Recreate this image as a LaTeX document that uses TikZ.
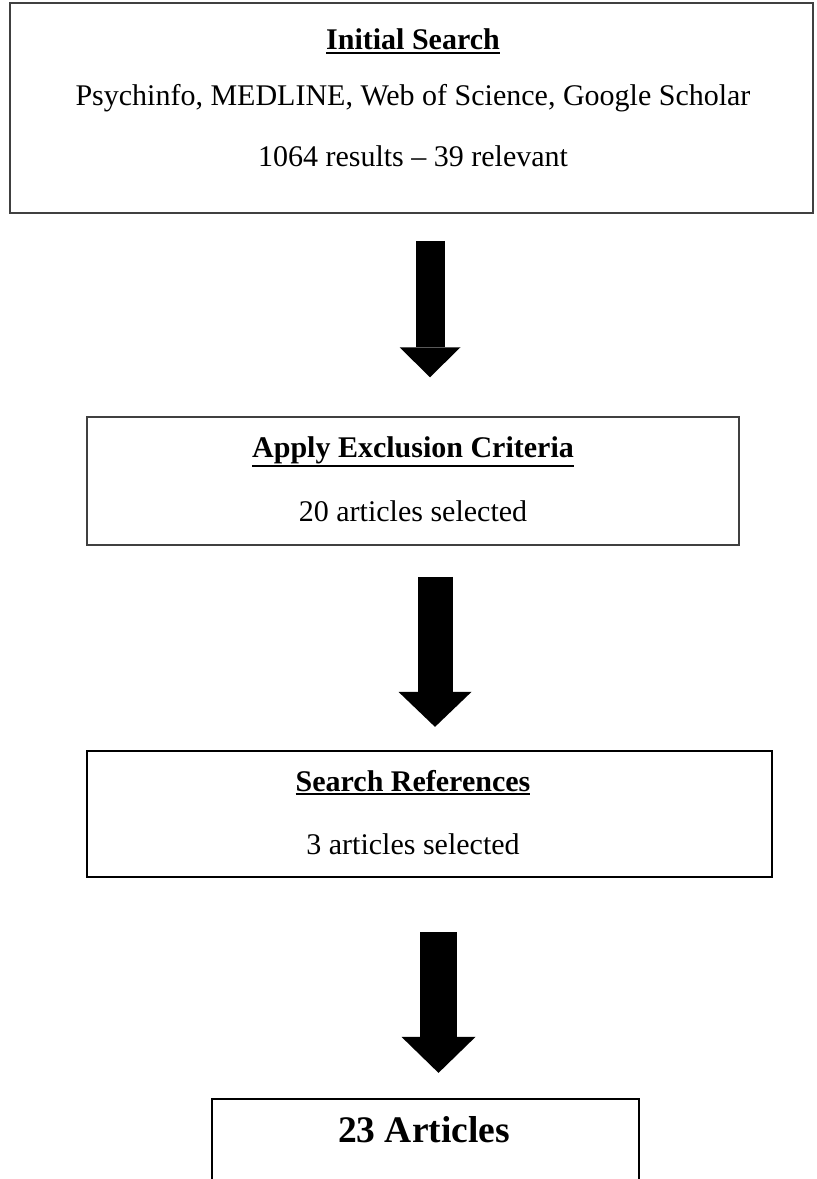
\documentclass[tikz,border=0pt]{standalone}
\usepackage{fontspec}
\setmainfont{Liberation Serif}
\usetikzlibrary{arrows.meta,fit,calc}

% underline a bit heavier than \underline, under the descenders
\newcommand{\thickunder}[1]{\setbox0=\hbox{#1}%
    \rlap{\rule[\dimexpr-\dp0-1.4pt\relax]{\wd0}{0.9pt}}\box0}

\begin{document}
\begin{tikzpicture}[
    x=0.4pt, y=-0.4pt,
    box/.style={draw=black!75, line width=0.6pt, inner sep=0pt},
    darkbox/.style={draw=black, line width=0.9pt, inner sep=0pt},
    head/.style={anchor=base, font=\fontsize{12}{14}\selectfont\bfseries},
    body/.style={anchor=base, font=\fontsize{12}{14}\selectfont},
    fat_arrow/.style n args={3}{line width=#1,
        -{Triangle[length=#2, width=#3, line width=0pt]}}
]

\useasboundingbox (0,0) rectangle (816,1179);
\clip (0,0) rectangle (816,1179);

% --- Initial search ---
\node[box, fit={(10,3) (813,213)}] (search) {};
\node[head] (search_title) at (413,50) {\thickunder{Initial Search}};
\node[body] (search_db) at (413,106) {Psychinfo, MEDLINE, Web of Science, Google Scholar};
\node[body] (search_hits) at (413,166) {1064 results -- 39 relevant};

% --- Exclusion ---
\node[box, fit={(87,417) (739,545)}] (exclusion) {};
\node[head] (exclusion_title) at (413,457) {\thickunder{Apply Exclusion Criteria}};
\node[body] (exclusion_count) at (413,521) {20 articles selected};

% --- References ---
\node[darkbox, fit={(87,751) (772,877)}] (references) {};
\node[head] (references_title) at (413,791) {\thickunder{Search References}};
\node[body] (references_count) at (413,854) {3 articles selected};

% --- Result (runs off the page) ---
\node[darkbox, fit={(212,1099) (639,1230)}] (result) {};
\node[head, font=\fontsize{15}{18}\selectfont\bfseries] (result_title) at (424,1142) {23 Articles};

% Arrows
\draw[fat_arrow={11.6pt}{12pt}{24.4pt}, shorten <=10.8pt, shorten >=15.6pt]
    ($(search.south)+(18.5,0)$) -- ($(exclusion.north)+(17,0)$);
\draw[fat_arrow={14pt}{14pt}{29.2pt}, shorten <=12.4pt, shorten >=9.2pt]
    ($(exclusion.south)+(22,0)$) -- ($(references.north)+(5.5,0)$);
\draw[fat_arrow={14.8pt}{14.4pt}{29.6pt}, shorten <=21.6pt, shorten >=10pt]
    ($(references.south)+(9,0)$) -- ($(result.north)+(13,0)$);

\end{tikzpicture}
\end{document}
